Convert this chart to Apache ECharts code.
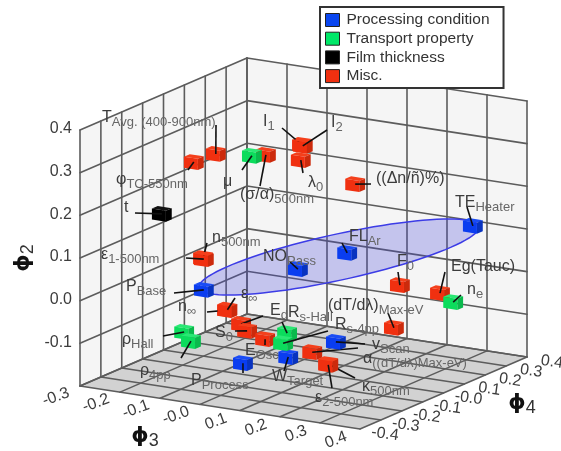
<!DOCTYPE html>
<html>
<head>
<meta charset="utf-8">
<style>html,body{margin:0;padding:0;background:#fff}#c{width:561px;height:451px;filter:blur(0.45px)}</style>
<script src="https://cdn.jsdelivr.net/npm/echarts@6/dist/echarts.min.js"></script>
</head>
<body>
<div id="c"></div>
<script>
// ---- data ----
const phi3Ticks = [-0.3, -0.2, -0.1, 0.0, 0.1, 0.2, 0.3, 0.4];
const phi4Ticks = [-0.4, -0.3, -0.2, -0.1, 0.0, 0.1, 0.2, 0.3, 0.4];
const phi2Ticks = [-0.2, -0.1, 0.0, 0.1, 0.2, 0.3, 0.4];
const phi3TickLabels = ['-0.3', '-0.2', '-0.1', '-0.0', '0.1', '0.2', '0.3', '0.4'];
const phi4TickLabels = ['-0.4', '-0.3', '-0.2', '-0.1', '-0.0', '0.1', '0.2', '0.3', '0.4'];
const phi2TickLabels = ['', '-0.1', '0.0', '0.1', '0.2', '0.3', '0.4'];
const categories = ['Processing condition', 'Transport property', 'Film thickness', 'Misc.'];
const names = ['T','\u03C6','\u03BC','(\u03C3/\u03B1)','t','n','\u03B5','P','n','\u03B5','E','S','E','\u03C1','\u03C1','P','R','R','W','v','\u03B1','\u03BA','\u03B5','(dT/d\u03BB)','F','Eg(Tauc)','n','TE','FL','NO','I','I','\u03BB','((\u0394n/\u00F1)%)'];
const subs = ['Avg. (400-900nm)','TC-550nm','','500nm','','500nm','1-500nm','Base','\u221E','\u221E','d','0','Osc','Hall','4pp','Process','s-Hall','s-4pp','Target','Scan','((dT/d\u03BB)Max-eV)','500nm','2-500nm','Max-eV','0','','e','Heater','Ar','Pass','1','2','0',''];
const kinds = [3,3,1,3,2,3,3,0,3,3,3,3,3,1,1,0,1,1,0,0,3,3,3,3,3,3,1,0,0,0,3,3,3,3];
const phi3 = [-0.117,-0.172,-0.079,-0.044,-0.252,-0.149,-0.147,-0.147,-0.089,-0.088,-0.106,-0.091,-0.046,-0.144,-0.127,0.003,0.009,-0.001,0.064,0.131,0.124,0.164,0.164,0.276,0.291,0.339,0.372,0.369,0.107,0.036,-0.006,-0.004,-0.009,0.127];
const phi4 = [-0.1,-0.1,0,0,-0.1,-0.1,-0.1,-0.1,-0.1,-0.1,0,0,0,-0.2,-0.2,-0.2,0,0,-0.1,0,-0.1,-0.1,-0.1,0,0,0.1,0.1,0.2,0.1,0,0.1,0.1,0.1,0.1];
const phi2 = [0.307,0.280,0.287,0.294,0.147,0.058,0.056,-0.016,-0.055,-0.054,-0.111,-0.125,-0.138,-0.093,-0.112,-0.145,-0.116,-0.141,-0.143,-0.119,-0.123,-0.145,-0.147,-0.065,0.037,0.004,-0.012,0.145,0.065,0.038,0.302,0.300,0.266,0.229];

// ---- view: parallel projection of the 3D box onto the page ----
const VIEW = {ox:80, oy:386, p3x:400, p3y:61.4, p4x:208.75, p4y:-90, p2y:-426.7, p3min:-0.3, p4min:-0.4, p2min:-0.2};
function project(a, b, c) {
  const u = a - VIEW.p3min, v = b - VIEW.p4min, w = c - VIEW.p2min;
  return [VIEW.ox + VIEW.p3x*u + VIEW.p4x*v, VIEW.oy + VIEW.p3y*u + VIEW.p4y*v + VIEW.p2y*w];
}
// annotation placement: [text left, text middle y, leader end x, leader end y]
const annotationLayout = [
 [102,118,216,125],[116,180,188,170],[223,182,242,170],[240,195,260,186],[124,208,135,213],
 [212,238,207,243],[101,255,186,258],[126,287,174,293],[178,307,207,312],[241,294,235,298],
 [270,311,263,316],[215,333,235,331],[245,351,265,345],[122,340,163,336],[140,371,181,358],
 [191,381,243,373],[288,313,282,322],[335,325,328,331],[272,377,284,371],[372,345,365,344],
 [363,359,358,348],[362,387,355,378],[315,398,332,388],[328,306,388,313],[397,262,398,272],
 [451,267,445,272],[467,290,461,295],[455,203,467,207],[349,237,342,243],[263,257,290,262],
 [263,122,282,128],[331,123,327,130],[308,183,303,173],[376,179,371,184]
];
const swatch = [
 {base:'#0a3df0', side:'#0833c0', top:'#1a4cf5'},
 {base:'#0cdc5c', side:'#0ab94c', top:'#2ae874'},
 {base:'#000000', side:'#000000', top:'#111111'},
 {base:'#f03010', side:'#cc2a0c', top:'#f4401c'}
];
const LEGEND_COLORS = ['#0a46f0', '#00e868', '#000000', '#f03010'];
const LINE = '#5c5c5c';
const TXT = '#3c3c3c';
const SANS = '"Liberation Sans", Arial, sans-serif';

const rows = names.map((n,i)=>[phi3[i],phi4[i],phi2[i],i]);

function poly(api, pts, fill, stroke, lw) {
  return {type:'polygon', shape:{points:pts.map(p=>api.coord(p))}, style:{fill:fill, stroke:stroke||null, lineWidth:lw||0}};
}
function seg(api, a, b, col, lw) {
  const p=api.coord(a), q=api.coord(b);
  return {type:'line', shape:{x1:p[0],y1:p[1],x2:q[0],y2:q[1]}, style:{stroke:col, lineWidth:lw, lineCap:'round'}};
}
function backdrop(params, api) {
  const a0=phi3Ticks[0], a1=phi3Ticks[phi3Ticks.length-1];
  const b0=phi4Ticks[0], b1=phi4Ticks[phi4Ticks.length-1];
  const c0=phi2Ticks[0], c1=phi2Ticks[phi2Ticks.length-1];
  const ch=[
    poly(api,[project(a0,b0,c0),project(a0,b1,c0),project(a0,b1,c1),project(a0,b0,c1)],'#f5f5f5'),
    poly(api,[project(a0,b1,c0),project(a1,b1,c0),project(a1,b1,c1),project(a0,b1,c1)],'#f5f5f5'),
    poly(api,[project(a0,b0,c0),project(a1,b0,c0),project(a1,b1,c0),project(a0,b1,c0)],'#d2d2d2')
  ];
  phi3Ticks.forEach(a=>{
    ch.push(seg(api,project(a,b0,c0),project(a,b1,c0),LINE,1.5));
    ch.push(seg(api,project(a,b1,c0),project(a,b1,c1),LINE,1.6));
  });
  phi4Ticks.forEach(b=>{
    ch.push(seg(api,project(a0,b,c0),project(a1,b,c0),LINE,1.5));
    ch.push(seg(api,project(a0,b,c0),project(a0,b,c1),LINE,1.6));
  });
  phi2Ticks.forEach(c=>{
    ch.push(seg(api,project(a0,b0,c),project(a0,b1,c),LINE,1.6));
    ch.push(seg(api,project(a0,b1,c),project(a1,b1,c),LINE,1.6));
  });
  return {type:'group', children:ch};
}
function ellipse(params, api) {
  const pts=[];
  for (let k=0;k<96;k++){
    const t=k/96*2*Math.PI;
    pts.push([339+110*Math.cos(t)+86.6*Math.sin(t), 257-38*Math.cos(t)]);
  }
  return poly(api,pts,'rgba(70,70,215,0.28)','#3c3ce6',1.5);
}
const W=0.035, D=0.028, H=0.026;
function marker(kind){
  return function(params, api){
    const a=api.value(0), b=api.value(1), c=api.value(2), i=api.value(3);
    const s=swatch[kind];
    const P=(sa,sb,sc)=>project(a+sa*W/2,b+sb*D/2,c+sc*H/2);
    const m=api.coord(project(a,b,c));
    const e=annotationLayout[i];
    const q=api.coord([e[2],e[3]]);
    return {type:'group', children:[
      poly(api,[P(-1,-1,1),P(1,-1,1),P(1,1,1),P(-1,1,1)],s.top),
      poly(api,[P(1,-1,-1),P(1,1,-1),P(1,1,1),P(1,-1,1)],s.side),
      poly(api,[P(-1,-1,-1),P(1,-1,-1),P(1,-1,1),P(-1,-1,1)],s.base),
      {type:'line',shape:{x1:m[0],y1:m[1],x2:q[0],y2:q[1]},style:{stroke:'#111',lineWidth:1.6}}
    ]};
  };
}
const RICH = {
  m:{fontFamily:SANS,fontSize:16,fill:TXT,color:TXT},
  s:{fontFamily:SANS,fontSize:13,fill:'#666',color:'#666',padding:[9,0,0,0]}
};
function annotations(params, api){
  const i=api.value(3), e=annotationLayout[i], p=api.coord([e[0],e[1]]);
  const txt='{m|'+names[i]+'}'+(subs[i]?'{s|'+subs[i]+'}':'');
  return {type:'text', x:p[0], y:p[1], style:{text:txt, rich:RICH, align:'left', verticalAlign:'middle'}};
}
function tickText(api,pos,dx,dy,str,deg,align){
  const p=api.coord([pos[0]+dx,pos[1]+dy]);
  return {type:'text', x:p[0], y:p[1], rotation:deg*Math.PI/180,
    style:{text:str, fontFamily:SANS, fontSize:16, fill:TXT, align:align||'center', verticalAlign:'middle'}};
}
function axisTexts(params, api){
  const a0=phi3Ticks[0], a1=phi3Ticks[phi3Ticks.length-1], b0=phi4Ticks[0], b1=phi4Ticks[phi4Ticks.length-1];
  const ch=[];
  phi3Ticks.forEach((a,i)=>ch.push(tickText(api,project(a,b0,phi2Ticks[0]),-24,11,phi3TickLabels[i],20)));
  phi4Ticks.forEach((b,i)=>ch.push(tickText(api,project(a1,b,phi2Ticks[0]),25,5,phi4TickLabels[i],-8)));
  phi2Ticks.forEach((c,i)=>{ if(phi2TickLabels[i]) ch.push(tickText(api,project(a0,b0,c),-8,-1,phi2TickLabels[i],0,'right')); });
  const title=(x,y,sub,deg)=>{
    const p=api.coord([x,y]);
    return {type:'text', x:p[0], y:p[1], rotation:deg*Math.PI/180, style:{
      text:'{b|\u03D5}{n|'+sub+'}', align:'center', verticalAlign:'middle',
      rich:{b:{fontFamily:'"DejaVu Sans"',fontWeight:'bold',fontSize:22,fill:'#111',color:'#111'},
            n:{fontFamily:SANS,fontSize:18,fill:'#333',color:'#333',padding:[10,0,0,0]}}}};
  };
  ch.push(title(23,258,'2',90));
  ch.push(title(145,436,'3',0));
  ch.push(title(522,403,'4',0));
  return {type:'group', children:ch};
}
const plain={silent:true, animation:false, clip:false, coordinateSystem:'cartesian2d', encode:{x:0,y:1}, type:'custom'};
const series=[
  Object.assign({},plain,{name:'walls', z:1, renderItem:backdrop, data:[[0,0]]}),
  Object.assign({},plain,{name:'axis text', z:2, renderItem:axisTexts, data:[[0,0]]}),
  Object.assign({},plain,{name:'ellipse', z:3, renderItem:ellipse, data:[[0,0]]})
];
[3,0,1,2].forEach(k=>{
  series.push(Object.assign({},plain,{name:categories[k], z:4, itemStyle:{color:LEGEND_COLORS[k]}, renderItem:marker(k), data:rows.filter(r=>kinds[r[3]]===k)}));
});
series.push(Object.assign({},plain,{name:'labels', z:5, renderItem:annotations, data:rows}));

const chart=echarts.init(document.getElementById('c'),null,{renderer:'canvas'});
chart.setOption({
  animation:false,
  backgroundColor:'#fff',
  grid:{left:0,right:0,top:0,bottom:0},
  xAxis:{type:'value',min:0,max:561,show:false},
  yAxis:{type:'value',min:0,max:451,inverse:true,show:false},
  legend:{
    orient:'vertical', left:320, top:7, z:20, selectedMode:false,
    backgroundColor:'#fff', borderColor:'#333', borderWidth:2, padding:[5,14,4,5], itemGap:2.7,
    itemWidth:14, itemHeight:13,
    textStyle:{fontFamily:SANS,fontSize:15.5,color:'#333',padding:[0,0,0,2]},
    data:categories.map((c,k)=>({name:c,icon:'rect',itemStyle:{color:LEGEND_COLORS[k],borderColor:'#222',borderWidth:1}}))
  },
  series:series
});
</script>
</body>
</html>
